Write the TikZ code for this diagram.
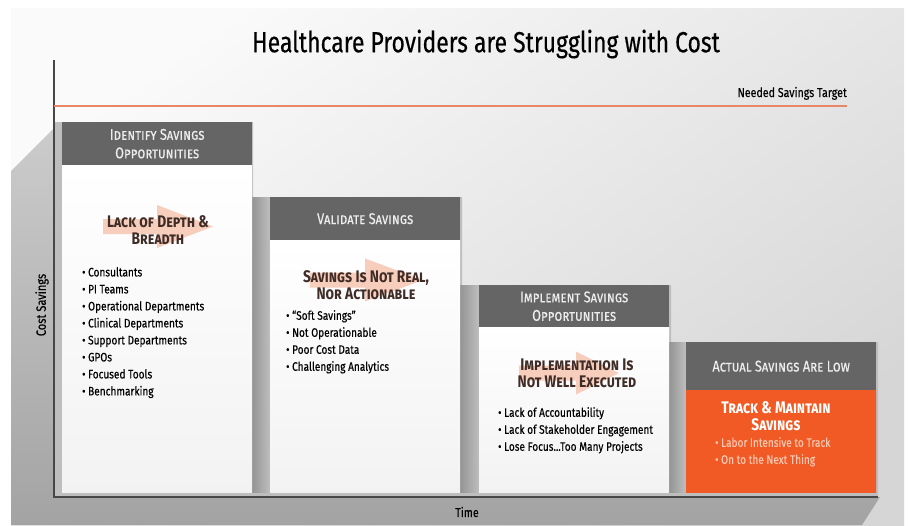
\documentclass[tikz,border=0pt]{standalone}
\usepackage{fontspec}
\setmainfont{Fira Sans}[FakeStretch=0.82, UprightFeatures={FakeBold=0.3}]
\newfontfamily\titlefont{Fira Sans}[FakeStretch=0.79, FakeBold=0.4]
\usetikzlibrary{positioning}

\definecolor{headgray}{HTML}{656565}
\definecolor{stepgray}{HTML}{BEBEBE}
\definecolor{targetline}{HTML}{E9866A}
\definecolor{trackorange}{HTML}{F15A24}
\definecolor{arrowpink}{HTML}{F7CDBC}
\definecolor{calloutbrown}{HTML}{3F2C26}
\definecolor{trackitem}{HTML}{FAC8B2}

% pale arrow behind a callout: tail x, head base x, tip x, middle y
\newcommand{\calloutarrow}[4]{%
  \fill[arrowpink] (#1,#4-7.5) -- (#2,#4-7.5) -- (#2,#4-21.5) -- (#3,#4)
    -- (#2,#4+21.5) -- (#2,#4+7.5) -- (#1,#4+7.5) -- cycle;}

\begin{document}
\begin{tikzpicture}[x=1pt,y=-1pt,
    stephead/.style={fill=headgray, text=white!93!black, minimum width=190, inner sep=0,
      anchor=north west, align=center, font=\fontsize{15.5}{18.5}\selectfont\scshape},
    stepbody/.style={top color=white, bottom color=black!5, minimum width=190, inner sep=0,
      anchor=north west},
    callout/.style={align=center, text=calloutbrown, inner sep=0,
      font=\fontsize{16.8}{17}\selectfont\bfseries\scshape},
    itemlist/.style={align=left, anchor=north west, inner sep=0, text=black,
      font=\fontsize{12.3}{17}\selectfont},
    riser/.style={left color=black!42, right color=stepgray},
  ]
  \useasboundingbox (0,0) rectangle (908,525);
  \fill[white] (0,0) rectangle (908,525);
  \shade[top color=black!2, bottom color=black!16, shading angle=35] (11,8) rectangle (904,525);

  % shadow thrown down and to the left of the steps
  \shade[top color=black!20, bottom color=black!36] (60,122) -- (11,171) -- (11,525)
    -- (862,525) -- (880,497) -- (54,497) -- (54,122) -- cycle;

  % the stair itself
  \fill[stepgray] (54,122) -- (253,122) -- (253,197) -- (462,197) -- (462,285)
    -- (671,285) -- (671,342) -- (878,342) -- (878,497) -- (54,497) -- cycle;
  \shade[riser] (252,197) rectangle (270,492);
  \shade[riser] (460,285) rectangle (479,492);
  \shade[riser] (669,342) rectangle (686,492);

  % axes
  \coordinate (ytop) at (54,60);
  \coordinate (origin) at (54,497);
  \coordinate (xend) at (878,497);
  \draw[black!72, line width=1.3] (ytop) -- (origin) -- (xend);
  \node[rotate=90, font=\fontsize{13.5}{15}\selectfont] (ylabel) at (42,305) {Cost Savings};
  \node[font=\fontsize{13}{15}\selectfont] (xlabel) at (467,512) {Time};

  % savings target
  \coordinate (tstart) at (54,106);
  \coordinate (tend) at (847,106);
  \draw[targetline, line width=2] (tstart) -- (tend);
  \node[anchor=south east, inner sep=0, font=\fontsize{13}{14}\selectfont] (target) at (847,100) {Needed Savings Target};

  \node[font=\titlefont\fontsize{29}{32}\selectfont] (title) at (486,44)
    {Healthcare Providers are Struggling with Cost};

  % step 1
  \node[stepbody, minimum height=327] (body1) at (62,165) {};
  \node[stephead, minimum height=43] (head1) at (62,122) {Identify Savings\\Opportunities};
  \calloutarrow{103}{157}{213}{226.5}
  \node[callout] (call1) at (158,230) {Lack of Depth \&\\Breadth};
  \node[itemlist] (list1) at (82,267) {• Consultants\\• PI Teams\\• Operational Departments\\
    • Clinical Departments\\• Support Departments\\• GPOs\\• Focused Tools\\• Benchmarking};

  % step 2
  \node[stepbody, minimum height=252] (body2) at (270,240) {};
  \node[stephead, minimum height=43] (head2) at (270,197) {Validate Savings};
  \calloutarrow{310}{365}{423}{280}
  \node[callout] (call2) at (366,285) {Savings Is Not Real,\\Nor Actionable};
  \node[itemlist] (list2) at (286,310) {• “Soft Savings”\\• Not Operationable\\• Poor Cost Data\\
    • Challenging Analytics};

  % step 3
  \node[stepbody, minimum height=165] (body3) at (479,327) {};
  \node[stephead, minimum height=42] (head3) at (479,285) {Implement Savings\\Opportunities};
  \calloutarrow{519}{576}{619}{373}
  \node[callout] (call3) at (577,373) {Implementation Is\\Not Well Executed};
  \node[itemlist] (list3) at (498,407) {• Lack of Accountability\\• Lack of Stakeholder Engagement\\
    • Lose Focus...Too Many Projects};

  % step 4
  \node[stepbody, top color=trackorange, bottom color=trackorange, minimum height=102] (body4) at (686,390) {};
  \node[stephead, minimum height=48] (head4) at (686,342) {Actual Savings Are Low};
  \node[callout, text=white] (call4) at (776,416) {Track \& Maintain\\Savings};
  \node[itemlist, text=trackitem] (list4) at (715,437) {• Labor Intensive to Track\\• On to the Next Thing};
\end{tikzpicture}
\end{document}
